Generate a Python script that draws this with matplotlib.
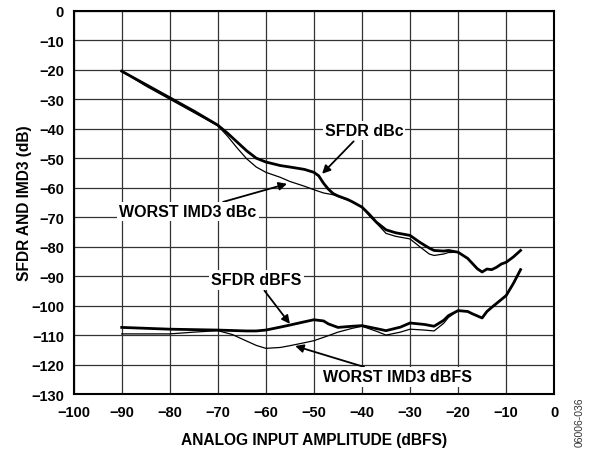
import matplotlib.pyplot as plt

plt.rcParams['font.family'] = ['Liberation Sans', 'DejaVu Sans']
plt.rcParams['font.weight'] = 'bold'

# input amplitude (dBFS) and measured values (dB)
sfdr_dbc_x = [-90, -85, -80, -75, -70, -68, -66, -64, -62, -60, -57, -55, -52, -50, -49, -48,
              -47, -46, -45, -43, -42, -40, -38.5, -37, -35, -33, -32, -30, -28, -26, -25, -23,
              -22, -20, -18, -16, -15, -14, -13, -12, -11, -10, -8.5, -7]
sfdr_dbc = [-20.5, -25, -29.5, -34, -38.8, -41.5, -44.5, -47.5, -50, -51.3, -52.5, -53, -53.8,
            -54.8, -56, -58.5, -60.5, -62, -62.8, -64, -64.8, -66.6, -69, -71.7, -74.3, -75.3,
            -75.6, -76.2, -78.5, -80.5, -81.3, -81.5, -81.3, -81.9, -84, -87.5, -88.6, -87.6,
            -87.8, -87, -85.9, -85.3, -83.5, -81.3]

imd3_dbc_x = [-90, -85, -80, -75, -70, -68, -66, -64, -62, -60, -57, -55, -52, -50, -48, -46,
              -45, -43, -42, -40, -38.5, -37, -35, -33, -32, -30, -28, -26, -25, -23, -22, -20,
              -18, -16, -15, -14, -13, -12, -11, -10, -8.5, -7]
imd3_dbc = [-20.5, -25.5, -30, -34.5, -39, -42.5, -46.5, -50.2, -53, -54.8, -56.5, -57.9,
            -59.5, -60.7, -61.8, -62.4, -63, -64.2, -64.8, -66.6, -69.5, -72, -75.5, -76.5,
            -76.8, -77.4, -80, -82.5, -83, -82.5, -82, -81.9, -84, -87.5, -88.6, -87.6, -87.8,
            -87, -85.9, -85.3, -83.5, -81.3]

sfdr_dbfs_x = [-90, -80, -70, -64, -62, -60, -57, -55, -52, -50, -48, -47, -45, -42, -40, -37,
               -35, -32, -30, -27, -25, -23, -22, -20, -18, -17, -15, -14, -13, -10, -8.5, -7]
sfdr_dbfs = [-107.4, -108, -108.3, -108.6, -108.6, -108.3, -107.3, -106.6, -105.5, -104.8,
             -105.2, -106.2, -107.4, -107, -106.8, -107.8, -108.5, -107.3, -105.9, -106.4,
             -107, -105, -103.4, -101.7, -102, -102.8, -104.2, -102, -100.6, -96.6, -92.5,
             -87.8]

imd3_dbfs_x = [-90, -80, -75, -70, -67, -65, -62, -60, -57, -55, -52, -50, -47, -45, -42, -40,
               -37, -35, -32, -30, -27, -25, -23, -22, -20, -18, -17, -15, -14, -13, -10, -8.5,
               -7]
imd3_dbfs = [-109.6, -109.6, -109, -108.5, -109.8, -111.3, -113.5, -114.5, -114.2, -113.6,
             -112.6, -111.9, -110.2, -109, -107.7, -107, -108.7, -110, -109, -108, -108.3,
             -108.6, -106, -104, -101.7, -102, -102.8, -104.2, -102, -100.6, -96.6, -92.5,
             -87.8]

x_ticks = list(range(-100, 1, 10))
y_ticks = list(range(-130, 1, 10))

fig = plt.figure(figsize=(5.94, 4.52), dpi=100)
ax = fig.add_axes([0.124, 0.126, 0.809, 0.848])

ax.plot(sfdr_dbc_x, sfdr_dbc, color='black', lw=2.0, zorder=3)
ax.plot(imd3_dbc_x, imd3_dbc, color='black', lw=0.9, zorder=3)
ax.plot(sfdr_dbfs_x, sfdr_dbfs, color='black', lw=2.0, zorder=3)
ax.plot(imd3_dbfs_x, imd3_dbfs, color='black', lw=0.9, zorder=3)

ax.set_xlim(-100, 0)
ax.set_ylim(-130, 0)
ax.set_xticks(x_ticks)
ax.set_yticks(y_ticks)
ax.set_xticklabels([f'{t}'.replace('-', '\u2212') for t in x_ticks], fontsize=10.5, fontweight='bold')
ax.set_yticklabels([f'{t}'.replace('-', '\u2212') for t in y_ticks], fontsize=10.5, fontweight='bold')
ax.tick_params(axis='y', length=0, pad=7)
ax.tick_params(axis='x', length=0, pad=8)
ax.grid(True, color='#333333', lw=0.9)
for s in ax.spines.values():
    s.set_linewidth(1.5)

ax.set_xlabel('ANALOG INPUT AMPLITUDE (dBFS)', fontsize=11.2, fontweight='bold')
ax.set_ylabel('SFDR AND IMD3 (dB)', fontsize=11.2, fontweight='bold')
ax.xaxis.set_label_coords(0.5, -0.1)
ax.yaxis.set_label_coords(-0.086, 0.5)

box = dict(facecolor='white', edgecolor='none', pad=1.5)
arrow = dict(arrowstyle='-|>', color='black', lw=1.3, mutation_scale=12, shrinkA=1, shrinkB=0)
notes = [
    ('SFDR dBc', (-48.3, -55.3), (-39.6, -40.7)),
    ('WORST IMD3 dBc', (-55.6, -58.7), (-76.2, -68.2)),
    ('SFDR dBFS', (-55.0, -106.2), (-62.0, -91.3)),
    ('WORST IMD3 dBFS', (-53.9, -113.7), (-32.7, -124.2)),
]
for text, tip, pos in notes:
    ax.annotate(text, xy=tip, xytext=pos, ha='center', va='center', fontsize=11.5,
                fontweight='bold', bbox=box, arrowprops=arrow, zorder=4)

fig.text(0.975, 0.066, '06006-036', rotation=90, fontsize=7.5, fontweight='normal',
         color='#333333', ha='center', va='center')

fig.savefig('out.png', dpi=100)
